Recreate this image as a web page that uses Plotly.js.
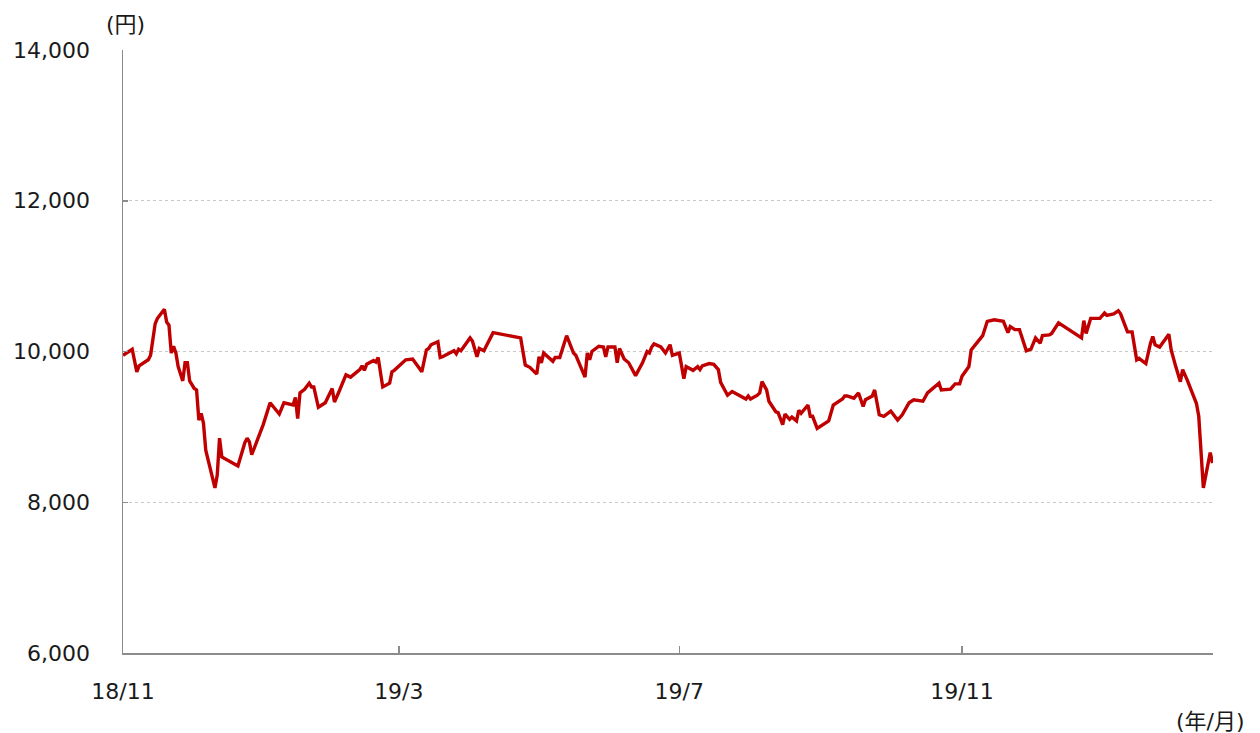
<!DOCTYPE html>
<html>
<head>
<meta charset="utf-8">
<script src="https://cdn.plot.ly/plotly-3.0.1.min.js"></script>
<style>html,body{margin:0;padding:0;background:#fff;}#chart{width:1260px;height:733px;}</style>
</head>
<body>
<div id="chart"></div>
<script>
// Days since 2018-11-01 for each observation
const dayOffset = [0,4,6,7,11,12,14,15,18,19,20,21,22,23,24,26,27,28,29,31,32,33,34,35,36,38,40,41,42,43,50,53,54,55,56,61,64,68,70,74,
75,76,77,79,81,82,83,85,88,91,92,94,97,99,103,104,105,106,109,110,111,113,116,117,118,123,126,130,132,133,134,137,138,139,
144,145,146,147,151,152,154,155,157,161,173,175,177,180,181,182,183,187,188,190,193,196,197,201,202,203,204,207,209,210,211,214,215,216,218,220,223,226,228,229,230,231,234,236,238,239,242,244,245,248,250,251,252,255,257,259,260,263,265,271,272,273,276,277,278,280,281,284,285,287,288,290,291,293,294,295,297,298,299,300,302,307,309,312,313,314,315,318,320,322,323,326,327,329,331,334,337,339,342,344,348,350,355,356,360,362,364,365,368,369,371,372,374,376,379,383,385,386,388,390,393,395,397,399,400,403,404,407,417,418,419,421,425,427,428,431,433,434,437,439,441,442,445,447,448,449,451,455,456,458,460,461,463,467,468,470,473,474];
// Price (yen)
const price = [9950,10030,9730,9810,9890,9950,10370,10440,10560,10390,10350,9980,10070,9980,9800,9610,9850,9850,9610,9510,9490,9090,9180,9050,8690,8430,8190,8360,8850,8600,8480,8790,8850,8800,8630,9030,9320,9170,9320,9290,
9390,9110,9450,9500,9580,9530,9530,9260,9320,9510,9330,9470,9690,9660,9760,9810,9750,9830,9880,9860,9920,9530,9580,9730,9750,9890,9900,9730,10020,10040,10090,10130,9920,9930,
10010,9970,10030,10010,10180,10140,9930,10040,10010,10250,10180,9820,9790,9700,9930,9850,9980,9870,9920,9920,10210,9980,9950,9660,9980,9890,10000,10070,10060,9930,10060,10060,9850,10040,9900,9850,9680,9850,10000,9980,10060,10100,10060,9980,10090,9950,9980,9640,9800,9750,9800,9760,9810,9840,9830,9760,9590,9420,9470,9370,9410,9370,9420,9450,9600,9490,9340,9200,9190,9030,9170,9100,9130,9080,9220,9180,9250,9290,9140,9140,8980,9080,9290,9360,9370,9410,9410,9380,9450,9270,9360,9410,9490,9160,9140,9210,9090,9160,9320,9360,9340,9450,9580,9490,9500,9570,9570,9670,9800,10020,10090,10140,10210,10400,10420,10400,10250,10330,10290,10290,10010,10030,10180,10110,10210,10220,10240,10380,10180,10410,10240,10440,10440,10510,10480,10500,10540,10500,10260,10260,9890,9910,9840,10110,10200,10090,10060,10230,10020,9800,9600,9760,9620,9310,9140,8190,8660,8520];

const tickDates = ['2018-11-01','2019-03-01','2019-07-01','2019-11-01'];
const tickLabels = ['18/11','19/3','19/7','19/11'];
const yTicks = [6000,8000,10000,12000,14000];

const base = Date.UTC(2018,10,1);
const toDate = d => new Date(base + d*86400000).toISOString().slice(0,19).replace('T',' ');
const xDates = dayOffset.map(toDate);

const font = 'DejaVu Sans, Verdana, Noto Sans CJK JP, sans-serif';
const fsize = 22;

const trace = {
  x: xDates, y: price, type: 'scatter', mode: 'lines',
  line: {color: '#c00000', width: 3.4, shape: 'linear'},
  hoverinfo: 'skip'
};

const layout = {
  width: 1260, height: 733,
  margin: {l: 123, r: 47, t: 50, b: 80},
  paper_bgcolor: '#ffffff', plot_bgcolor: '#ffffff',
  showlegend: false,
  font: {family: font, size: fsize, color: '#1a1a1a'},
  xaxis: {
    type: 'date',
    range: [toDate(0), toDate(474.2)],
    tickvals: tickDates, ticktext: tickLabels,
    ticks: 'inside', ticklen: 7, tickwidth: 1.5, tickcolor: '#8c8c8c',
    showline: true, linecolor: '#8c8c8c', linewidth: 1.5,
    showgrid: false, zeroline: false,
    ticklabelstandoff: 18,
    tickfont: {family: font, size: fsize, color: '#1a1a1a'}
  },
  yaxis: {
    range: [6000, 14000],
    tickvals: yTicks, tickformat: ',d',
    ticks: 'inside', ticklen: 5, tickwidth: 1.5, tickcolor: '#8c8c8c',
    showline: true, linecolor: '#8c8c8c', linewidth: 1.5,
    showgrid: true, gridcolor: '#c8c8c8', gridwidth: 1, griddash: 'dot',
    zeroline: false,
    ticklabelstandoff: 27,
    tickfont: {family: font, size: fsize, color: '#1a1a1a'}
  },
  annotations: [
    {text: '(円)', xref: 'paper', yref: 'paper', x: 0, y: 1, xshift: 2, yshift: 26,
     xanchor: 'center', yanchor: 'middle', showarrow: false,
     font: {family: font, size: fsize, color: '#1a1a1a'}},
    {text: '(年/月)', xref: 'paper', yref: 'paper', x: 1, y: 0, xshift: -3, yshift: -68,
     xanchor: 'center', yanchor: 'middle', showarrow: false,
     font: {family: font, size: fsize, color: '#1a1a1a'}}
  ]
};

Plotly.newPlot('chart', [trace], layout, {displayModeBar: false, staticPlot: true});
</script>
</body>
</html>
